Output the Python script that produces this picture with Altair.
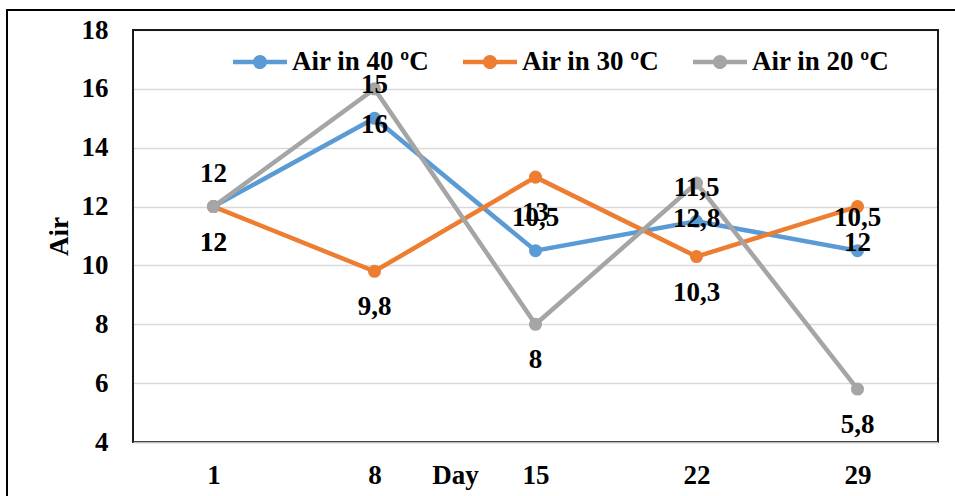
import altair as alt
import pandas as pd

days = ["1", "8", "15", "22", "29"]
series = ["Air in 40 ºC", "Air in 30 ºC", "Air in 20 ºC"]
air_40 = [12, 15, 10.5, 11.5, 10.5]
air_30 = [12, 9.8, 13, 10.3, 12]
air_20 = [12, 16, 8, 12.8, 5.8]
colors = ["#5B9BD5", "#ED7D31", "#A5A5A5"]
y_ticks = [4, 6, 8, 10, 12, 14, 16, 18]
label_pos = ["above", "below", "below"]

rows = []
for name, vals, pos in zip(series, [air_40, air_30, air_20], label_pos):
    for d, v in zip(days, vals):
        rows.append({"day": d, "series": name, "value": v,
                     "label": f"{v:g}".replace(".", ","), "pos": pos})
df = pd.DataFrame(rows)

W, H = 805, 412
FONT = "Times New Roman, Liberation Serif, serif"
FS = 27

x_enc = alt.X("day:O", sort=days, scale=alt.Scale(type="point", padding=0.5),
              axis=alt.Axis(title="Day", labelAngle=0, labelFont=FONT, labelFontSize=FS,
                            labelFontWeight="bold", labelColor="black", labelPadding=20,
                            ticks=False, domain=True, domainColor="#bfbfbf", domainWidth=1.5,
                            grid=False, titleFont=FONT, titleFontSize=FS, titleFontWeight="bold",
                            titleColor="black", titleX=322, titleY=33, titleBaseline="middle",
                            zindex=1))
y_enc = alt.Y("value:Q", scale=alt.Scale(domain=[4, 18], nice=False, zero=False),
              axis=alt.Axis(values=y_ticks, title="Air", domain=False, ticks=False,
                            grid=True, gridColor="#d9d9d9", gridWidth=1.5,
                            labelFont=FONT, labelFontSize=FS, labelFontWeight="bold",
                            labelColor="black", labelPadding=25,
                            titleFont=FONT, titleFontSize=FS, titleFontWeight="bold",
                            titleColor="black", titleX=-74, titleY=H / 2, titleAngle=-90,
                            titleBaseline="middle"))

legend_symbol = ("M-1,-0.085H1V0.085H-1Z"
                 "M0.26,0A0.26,0.26,0,1,1,-0.26,0A0.26,0.26,0,1,1,0.26,0Z")

base = alt.Chart(df)

frame = base.mark_rect(filled=False, stroke="black", strokeWidth=1.3, clip=False).encode(
    x=alt.value(-126), x2=alt.value(W + 40), y=alt.value(-20), y2=alt.value(H + 80))

border = base.mark_rect(filled=False, stroke="#1a1a1a", strokeWidth=1.5).encode(
    x=alt.value(0), x2=alt.value(W), y=alt.value(0), y2=alt.value(H))

lines = base.mark_line(strokeWidth=4.5).encode(
    x=x_enc, y=y_enc,
    color=alt.Color("series:N", scale=alt.Scale(domain=series, range=colors), legend=None),
    order=alt.Order("day_idx:Q"),
).transform_calculate(day_idx="indexof(%s, datum.day)" % str(days))

points = base.mark_circle(size=170, opacity=1).encode(
    x=x_enc, y=y_enc,
    color=alt.Color("series:N", scale=alt.Scale(domain=series, range=colors),
                    legend=alt.Legend(orient="none", legendX=100, legendY=5,
                                      direction="horizontal", columns=3, title=None,
                                      labelFont=FONT, labelFontSize=FS, labelFontWeight="bold",
                                      labelColor="black", labelOffset=5, columnPadding=33,
                                      padding=0, symbolType=legend_symbol, symbolSize=2916,
                                      symbolStrokeWidth=0, symbolOpacity=1, labelLimit=0)),
)

text_above = base.transform_filter("datum.pos == 'above'").mark_text(
    dy=-33, font=FONT, fontSize=FS, fontWeight="bold", color="black", baseline="middle"
).encode(x=x_enc, y=y_enc, text="label:N")

text_below = base.transform_filter("datum.pos == 'below'").mark_text(
    dy=36, font=FONT, fontSize=FS, fontWeight="bold", color="black", baseline="middle"
).encode(x=x_enc, y=y_enc, text="label:N")

chart = alt.layer(frame, border, lines, points, text_above, text_below).resolve_scale(
    color="independent"
).properties(
    width=W, height=H,
    autosize=alt.AutoSizeParams(type="none"),
    padding={"left": 133, "top": 30, "right": 17, "bottom": 54},
    background="white",
).configure_view(stroke=None)

chart.save("out.html", embed_options={"renderer": "svg", "actions": False})
